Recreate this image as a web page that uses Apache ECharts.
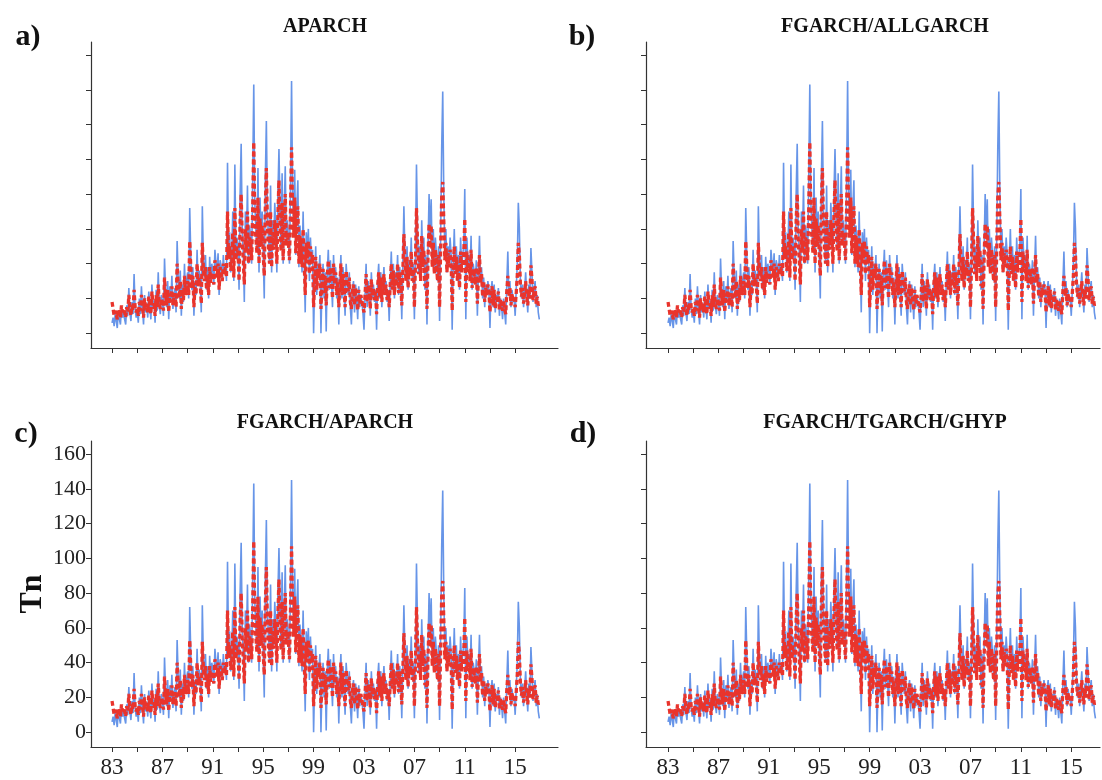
<!DOCTYPE html>
<html>
<head>
<meta charset="utf-8">
<script src="https://cdn.jsdelivr.net/npm/echarts@6/dist/echarts.min.js"></script>
<style>
  html, body { margin: 0; padding: 0; background: #fff; }
  #main { width: 1102px; height: 780px; }
</style>
</head>
<body>
<div id="main"></div>
<script>
// monthly series, Jan 1983 .. Dec 2016
const startYear = 1983;
const panelTitles = ['APARCH', 'FGARCH/ALLGARCH', 'FGARCH/APARCH', 'FGARCH/TGARCH/GHYP'];
const panelLetters = ['a)', 'b)', 'c)', 'd)'];
const yTicks = [0, 20, 40, 60, 80, 100, 120, 140, 160];
const xTicks = [1983, 1985, 1987, 1989, 1991, 1993, 1995, 1997, 1999, 2001, 2003, 2005, 2007, 2009, 2011, 2013, 2015];
const xLabelYears = [1983, 1987, 1991, 1995, 1999, 2003, 2007, 2011, 2015];

// observed Tn (blue), one row per year
const observed = [
  6, 9, 4, 11, 7, 3, 13, 8, 5, 15, 9, 12,
  8, 5, 16, 10, 26, 12, 7, 18, 11, 34, 14, 9,
  13, 6, 20, 11, 27, 14, 5, 22, 12, 17, 9, 24,
  15, 8, 28, 14, 19, 6, 25, 13, 35, 16, 11, 22,
  18, 10, 43, 24, 15, 30, 8, 27, 18, 33, 14, 22,
  26, 12, 53, 32, 20, 36, 10, 28, 18, 40, 22, 30,
  35, 20, 72, 45, 25, 38, 10, 30, 22, 48, 28, 36,
  30, 12, 73, 42, 32, 45, 25, 38, 20, 44, 30, 40,
  36, 28, 48, 40, 34, 46, 22, 42, 38, 30, 45, 35,
  40, 30, 98, 48, 58, 35, 42, 70, 30, 97, 45, 55,
  50, 25, 80, 109, 60, 45, 18, 70, 52, 85, 40, 62,
  55, 40, 90, 143, 75, 60, 48, 95, 35, 78, 52, 70,
  45, 20, 88, 122, 70, 55, 40, 85, 35, 65, 50, 75,
  60, 35, 80, 106, 72, 48, 92, 40, 70, 96, 52, 65,
  55, 40, 85, 145, 80, 60, 94, 45, 72, 88, 38, 62,
  50, 35, 70, 40, 12, 58, 45, 60, 30, 55, 40, 48,
  0, 30, 50, 22, 40, 35, 45, 0, 28, 40, 20, 35,
  1, 35, 48, 25, 42, 30, 15, 45, 28, 38, 20, 32,
  5, 30, 45, 20, 38, 25, 10, 40, 30, 22, 35, 15,
  5, 25, 30, 12, 28, 20, 8, 27, 15, 22, 18, 12,
  2, 22, 40, 15, 30, 25, 10, 35, 20, 28, 18, 25,
  2, 30, 40, 20, 35, 15, 28, 38, 22, 30, 18, 25,
  7, 30, 47, 25, 40, 20, 35, 28, 45, 22, 38, 30,
  8, 40, 73, 45, 30, 50, 25, 42, 35, 55, 30, 40,
  8, 45, 97, 60, 35, 50, 30, 65, 40, 55, 25, 45,
  5, 50, 80, 55, 77, 40, 60, 35, 55, 45, 30, 50,
  7, 55, 106, 139, 80, 45, 60, 35, 50, 40, 55, 45,
  2, 40, 60, 35, 50, 30, 45, 25, 55, 38, 45, 50,
  83, 8, 55, 40, 45, 30, 56, 25, 40, 35, 28, 42,
  10, 35, 56, 30, 38, 20, 32, 15, 28, 22, 30, 25,
  3, 25, 30, 15, 28, 12, 22, 18, 26, 10, 20, 16,
  8, 20, 12, 5, 28, 47, 22, 30, 15, 25, 18, 20,
  10, 25, 40, 75, 60, 30, 20, 28, 15, 25, 35, 22,
  12, 28, 20, 49, 35, 18, 25, 30, 15, 22, 12, 8
];

// fitted model (red dashed)
const fitted = [
  18, 14, 10, 13, 11, 8, 14, 12, 9, 16, 12, 14,
  12, 9, 15, 12, 22, 14, 10, 16, 13, 25, 15, 12,
  14, 10, 18, 13, 22, 15, 9, 20, 14, 17, 12, 21,
  16, 11, 24, 16, 18, 10, 22, 15, 28, 17, 14, 20,
  18, 13, 32, 22, 16, 25, 12, 23, 18, 27, 16, 21,
  23, 15, 40, 28, 20, 30, 14, 25, 19, 33, 22, 26,
  30, 22, 53, 38, 26, 33, 15, 27, 22, 40, 27, 32,
  28, 17, 52, 37, 30, 38, 25, 33, 22, 38, 29, 35,
  34, 28, 42, 37, 32, 40, 25, 38, 35, 30, 40, 34,
  38, 32, 70, 44, 50, 36, 40, 58, 32, 72, 42, 50,
  46, 30, 65, 80, 54, 42, 28, 60, 48, 70, 40, 55,
  52, 42, 72, 110, 64, 55, 46, 78, 40, 66, 50, 62,
  45, 33, 72, 95, 62, 50, 40, 70, 38, 58, 48, 65,
  55, 40, 68, 88, 62, 47, 75, 42, 60, 80, 50, 58,
  52, 42, 70, 107, 68, 55, 78, 46, 62, 73, 40, 56,
  48, 38, 60, 42, 22, 52, 43, 53, 34, 50, 40, 45,
  15, 30, 44, 25, 37, 33, 40, 14, 28, 37, 23, 33,
  16, 32, 42, 26, 38, 30, 20, 40, 28, 35, 22, 30,
  15, 28, 40, 22, 34, 26, 15, 36, 28, 24, 32, 18,
  14, 24, 28, 16, 26, 20, 13, 25, 17, 22, 19, 15,
  12, 22, 34, 18, 28, 24, 14, 31, 21, 26, 19, 24,
  11, 27, 35, 21, 32, 18, 26, 34, 22, 28, 19, 24,
  15, 28, 40, 25, 36, 22, 32, 27, 40, 23, 35, 29,
  16, 36, 57, 41, 30, 44, 26, 38, 33, 47, 30, 37,
  15, 40, 72, 52, 34, 45, 30, 56, 38, 48, 27, 41,
  14, 44, 63, 49, 62, 38, 52, 34, 48, 41, 30, 45,
  15, 48, 78, 87, 65, 42, 52, 35, 46, 38, 48, 42,
  13, 36, 50, 34, 44, 30, 40, 26, 47, 35, 40, 44,
  66, 18, 47, 37, 40, 30, 48, 26, 37, 33, 28, 38,
  17, 32, 45, 29, 34, 21, 30, 18, 26, 22, 28, 24,
  12, 23, 27, 16, 25, 14, 21, 18, 24, 13, 19, 16,
  13, 19, 14, 11, 24, 33, 21, 26, 16, 23, 18, 20,
  15, 23, 33, 52, 45, 28, 21, 26, 17, 23, 30, 21,
  16, 25, 20, 39, 31, 19, 24, 27, 17, 21, 16, 18
];

const serif = '"Liberation Serif", "Times New Roman", serif';
const axisColor = '#333';

// panel boxes (px) and x range in years
const grids = [
  { left: 91, top: 42, width: 467, height: 306 },
  { left: 646, top: 42, width: 454, height: 306 },
  { left: 91, top: 441, width: 467, height: 306 },
  { left: 646, top: 441, width: 454, height: 306 }
];
const xRanges = [[1981.33, 2018.4], [1981.25, 2017.28], [1981.33, 2018.4], [1981.25, 2017.28]];

function toPoints(arr) {
  return arr.map(function (v, i) { return [startYear + i / 12, v]; });
}
const obsPts = toPoints(observed);
const fitPts = toPoints(fitted);

var chart = echarts.init(document.getElementById('main'));

var xAxes = [], yAxes = [], series = [], graphics = [];
for (var k = 0; k < 4; k++) {
  var bottomRow = k >= 2;
  xAxes.push({
    type: 'value',
    gridIndex: k,
    min: xRanges[k][0],
    max: xRanges[k][1],
    splitLine: { show: false },
    axisLine: { show: true, onZero: false, lineStyle: { color: axisColor, width: 1.2 } },
    axisTick: { show: true, customValues: xTicks, length: 5, lineStyle: { color: axisColor } },
    axisLabel: {
      show: bottomRow,
      customValues: xLabelYears,
      formatter: function (v) { return String(Math.round(v) % 100).padStart(2, '0'); },
      fontFamily: serif,
      fontSize: 23,
      color: '#222',
      margin: 9
    }
  });
  yAxes.push({
    type: 'value',
    gridIndex: k,
    min: -8.5,
    max: 167.5,
    splitLine: { show: false },
    axisLine: { show: true, lineStyle: { color: axisColor, width: 1.2 } },
    axisTick: { show: true, customValues: yTicks, length: 5, lineStyle: { color: axisColor } },
    axisLabel: {
      show: k === 2,
      customValues: yTicks,
      fontFamily: serif,
      fontSize: 22,
      color: '#222',
      margin: 5
    },
    name: k === 2 ? 'Tn' : '',
    nameLocation: 'middle',
    nameRotate: 90,
    nameGap: 36,
    nameTextStyle: { fontFamily: serif, fontWeight: 'bold', fontSize: 32, color: '#111' }
  });
  series.push({
    type: 'line',
    xAxisIndex: k,
    yAxisIndex: k,
    data: obsPts,
    showSymbol: false,
    lineStyle: { color: '#6795E8', width: 1.6 },
    z: 2
  });
  series.push({
    type: 'line',
    xAxisIndex: k,
    yAxisIndex: k,
    data: fitPts,
    showSymbol: false,
    lineStyle: { color: '#E9342C', width: 3.3, type: [5, 3] },
    z: 3
  });
}

var titlePos = [[325, 27], [885, 27], [325, 423], [885, 423]];
var letterPos = [[28, 37], [582, 37], [26, 434], [583, 434]];
for (var j = 0; j < 4; j++) {
  graphics.push({
    type: 'text',
    x: titlePos[j][0],
    y: titlePos[j][1],
    style: {
      text: panelTitles[j],
      fontFamily: serif,
      fontWeight: 'bold',
      fontSize: 20,
      fill: '#111',
      textAlign: 'center',
      textVerticalAlign: 'middle'
    }
  });
  graphics.push({
    type: 'text',
    x: letterPos[j][0],
    y: letterPos[j][1],
    style: {
      text: panelLetters[j],
      fontFamily: serif,
      fontWeight: 'bold',
      fontSize: 30,
      fill: '#111',
      textAlign: 'center',
      textVerticalAlign: 'middle'
    }
  });
}

chart.setOption({
  backgroundColor: '#ffffff',
  animation: false,
  grid: grids,
  xAxis: xAxes,
  yAxis: yAxes,
  series: series,
  graphic: graphics
});
</script>
</body>
</html>
